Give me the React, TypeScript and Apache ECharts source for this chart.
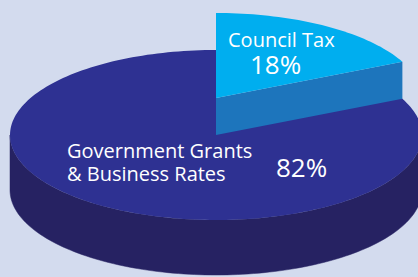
import React, { useEffect, useRef } from "react";
import * as echarts from "echarts";

// Data
const categories = ["Council Tax", "Government Grants\n& Business Rates"];
const values = [18, 82];
const percentLabels = ["18%", "82%"];

// Layout / style (kept separate from data)
const WIDTH = 418;
const HEIGHT = 277;
const CX = 216;
const CY = 135;
const RX = 206;
const RY = 85;
const DEPTH = 55;
const EXPLODE = [37, 0];
const TOP_COLORS = ["#00aeef", "#2e3192"];
const SIDE_COLORS = ["#1d75bc", "#262262"];
const NAME_POS = [
  [228, 39],
  [67, 150.5],
];
const NAME_LINE_GAP = 23;
const PCT_POS = [
  [250, 63.5],
  [276, 167],
];
const FONT = '"Open Sans", "Noto Sans", sans-serif';

export default function App() {
  const ref = useRef<HTMLDivElement>(null);

  useEffect(() => {
    const chart = echarts.init(ref.current!, null, { renderer: "svg" });
    const total = values.reduce((a, b) => a + b, 0);
    const rad = (d: number) => (d * Math.PI) / 180;

    const renderItem = (params: any, api: any) => {
      const i = params.dataIndex;
      const v = api.value(1) as number;
      let start = 90;
      for (let j = 0; j < i; j++) start -= (values[j] / total) * 360;
      const end = start - (v / total) * 360;
      const ox = CX;
      const oy = CY - EXPLODE[i];
      const pt = (t: number, dz = 0) => [
        ox + RX * Math.cos(rad(t)),
        oy - RY * Math.sin(rad(t)) + dz,
      ];
      const arc = (a: number, b: number, dz: number) => {
        const n = Math.max(2, Math.ceil(Math.abs(a - b) / 1.5));
        const out: number[][] = [];
        for (let k = 0; k <= n; k++) out.push(pt(a + ((b - a) * k) / n, dz));
        return out;
      };
      const children: any[] = [];
      // outer cylindrical side, front half only
      for (let k = -2; k <= 1; k++) {
        const lo = Math.max(end, -180 + 360 * k);
        const hi = Math.min(start, 360 * k);
        if (lo < hi) {
          children.push({
            type: "polygon",
            shape: { points: [...arc(hi, lo, 0), ...arc(lo, hi, DEPTH)] },
            style: { fill: SIDE_COLORS[i], stroke: SIDE_COLORS[i], lineWidth: 0.5 },
          });
        }
      }
      // radial cut faces
      if (Math.cos(rad(end)) > 1e-6) {
        children.push({
          type: "polygon",
          shape: { points: [[ox, oy], pt(end), pt(end, DEPTH), [ox, oy + DEPTH]] },
          style: { fill: SIDE_COLORS[i] },
        });
      }
      if (Math.cos(rad(start)) < -1e-6) {
        children.push({
          type: "polygon",
          shape: { points: [[ox, oy], pt(start), pt(start, DEPTH), [ox, oy + DEPTH]] },
          style: { fill: SIDE_COLORS[i] },
        });
      }
      // top face
      children.push({
        type: "polygon",
        shape: { points: [[ox, oy], ...arc(start, end, 0)] },
        style: { fill: TOP_COLORS[i] },
      });
      // labels (one text element per line)
      categories[i].split("\n").forEach((line, li) => {
        children.push({
          type: "text",
          x: NAME_POS[i][0],
          y: NAME_POS[i][1] + li * NAME_LINE_GAP,
          style: {
            text: line,
            fill: "#ffffff",
            fontSize: 20,
            fontFamily: FONT,
            lineHeight: 18,
            align: "left",
            verticalAlign: "middle",
            textAlign: "left",
            textVerticalAlign: "middle",
          },
        });
      });
      children.push({
        type: "text",
        x: PCT_POS[i][0],
        y: PCT_POS[i][1],
        style: {
          text: percentLabels[i],
          fill: "#ffffff",
          fontSize: 26,
          fontFamily: FONT,
          lineHeight: 22,
          align: "left",
          verticalAlign: "middle",
          textAlign: "left",
          textVerticalAlign: "middle",
        },
      });
      return { type: "group", children };
    };

    chart.setOption({
      animation: false,
      backgroundColor: "#d3dbee",
      series: [
        {
          type: "custom",
          coordinateSystem: "none",
          renderItem,
          data: values.map((v, i) => ({ name: categories[i], value: [i, v] })),
        },
      ],
    });
    return () => chart.dispose();
  }, []);

  return (
    <div
      ref={ref}
      style={{ position: "fixed", left: 0, top: 0, width: WIDTH, height: HEIGHT }}
    />
  );
}
